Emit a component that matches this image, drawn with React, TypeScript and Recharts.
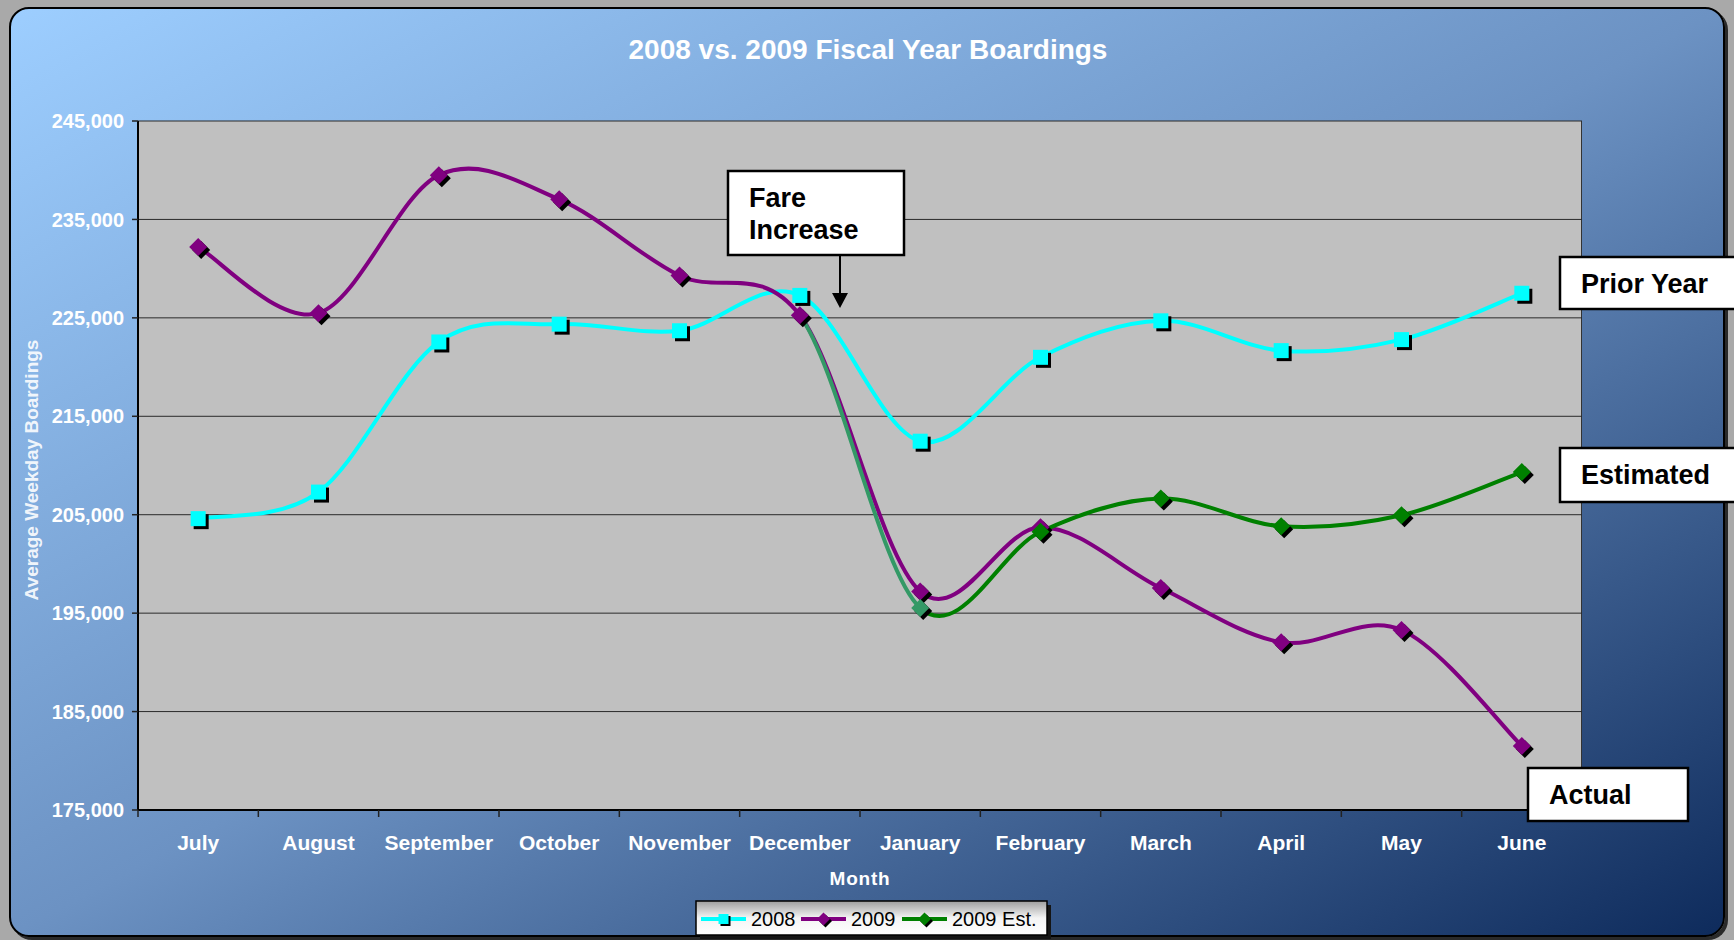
import React from 'react';
import { LineChart, Line, XAxis, YAxis, CartesianGrid } from 'recharts';

const months = [
  'July', 'August', 'September', 'October', 'November', 'December',
  'January', 'February', 'March', 'April', 'May', 'June',
];
const boardings2008 = [204600, 207300, 222550, 224360, 223690, 227280, 212470, 220990, 224700, 221670, 222790, 227500];
const boardings2009 = [232210, 225480, 239500, 237040, 229300, 225260, 197210, 203720, 197550, 192050, 193290, 181500];
const boardings2009Est = [null, null, null, null, null, 225260, 195530, 203270, 206640, 203830, 204950, 209330];
const yTicks = [175000, 185000, 195000, 205000, 215000, 225000, 235000, 245000];

// the estimate follows the actuals until it branches off in December;
// the shared stretch is drawn invisibly so the smoothing matches the actual curve
const estStart = boardings2009Est.findIndex((v) => v != null);

const data = months.map((month, i) => ({
  month,
  y2008: boardings2008[i],
  y2009: boardings2009[i],
  est: boardings2009Est[i] ?? boardings2009[i],
}));

const W = 1734;
const H = 940;
const PLOT_L = 138;
const PLOT_T = 121;
const PLOT_R = 1582;
const PLOT_B = 810;
const BAND = (PLOT_R - PLOT_L) / months.length;
const Y_AXIS_W = 80;
const X_AXIS_H = 40;
const FONT = 'Arial, "Liberation Sans", sans-serif';

const segFrac = (i: number) => i / (months.length - 1);

// Excel-style smoothing (uniform Catmull-Rom)
const smooth = (context: any) => {
  let pts: number[][] = [];
  return {
    areaStart() {},
    areaEnd() {},
    lineStart() {
      pts = [];
    },
    point(x: number, y: number) {
      pts.push([+x, +y]);
    },
    lineEnd() {
      const n = pts.length;
      if (!n) return;
      context.moveTo(pts[0][0], pts[0][1]);
      for (let i = 0; i < n - 1; i++) {
        const p0 = pts[Math.max(i - 1, 0)];
        const p1 = pts[i];
        const p2 = pts[i + 1];
        const p3 = pts[Math.min(i + 2, n - 1)];
        context.bezierCurveTo(
          p1[0] + (p2[0] - p0[0]) / 6,
          p1[1] + (p2[1] - p0[1]) / 6,
          p2[0] - (p3[0] - p1[0]) / 6,
          p2[1] - (p3[1] - p1[1]) / 6,
          p2[0],
          p2[1]
        );
      }
    },
  };
};

type Shape = 'square' | 'diamond';

const Marker = ({ x, y, shape, color, size }: { x: number; y: number; shape: Shape; color: string; size: number }) => {
  const off = size > 10 ? 3 : 2;
  if (shape === 'square') {
    const h = size / 2;
    return (
      <g>
        <rect x={x - h + off} y={y - h + off} width={size} height={size} fill="#000" />
        <rect x={x - h} y={y - h} width={size} height={size} fill={color} />
      </g>
    );
  }
  const r = size / 2 + 1.5;
  const pts = (dx: number, dy: number) =>
    `${x + dx},${y - r + dy} ${x + r + dx},${y + dy} ${x + dx},${y + r + dy} ${x - r + dx},${y + dy}`;
  return (
    <g>
      <polygon points={pts(off, off)} fill="#000" />
      <polygon points={pts(0, 0)} fill={color} />
    </g>
  );
};

const makeDot = (key: string, shape: Shape, color: string, fromIndex = 0, alt?: { index: number; color: string }) =>
  (props: any) => {
    const { cx, cy, index, payload } = props;
    if (cx == null || cy == null || payload?.[key] == null || index < fromIndex) {
      return <g key={`${key}-dot-${index}`} />;
    }
    const c = alt && alt.index === index ? alt.color : color;
    return (
      <g key={`${key}-dot-${index}`}>
        <Marker x={cx} y={cy} shape={shape} color={c} size={15} />
      </g>
    );
  };

const series = [
  { key: 'y2008', name: '2008', color: '#00FFFF', shape: 'square' as Shape },
  { key: 'y2009', name: '2009', color: '#800080', shape: 'diamond' as Shape },
  { key: 'est', name: '2009 Est.', color: '#008000', shape: 'diamond' as Shape },
];

const MonthTick = (props: any) => {
  const { x, y, payload } = props;
  return (
    <g>
      <line x1={x - BAND / 2} x2={x - BAND / 2} y1={y} y2={y + 7} stroke="#222" strokeWidth={1.5} />
      <text x={x} y={y + 40} textAnchor="middle" fill="#fff" fontSize={21} fontWeight="bold" fontFamily={FONT}>
        {payload.value}
      </text>
    </g>
  );
};

const NoteBox = ({ x, y, w, h, lines }: { x: number; y: number; w: number; h: number; lines: string[] }) => (
  <g>
    <rect x={x} y={y} width={w} height={h} fill="#fff" stroke="#000" strokeWidth={2.5} />
    {lines.map((t, i) => (
      <text key={t} x={x + 21} y={y + 36 + i * 32} fontSize={27} fontWeight="bold" fontFamily={FONT} fill="#000">
        {t}
      </text>
    ))}
  </g>
);

const Overlay = () => {
  const legX = 696;
  const legY = 901;
  const itemW = [100, 101, 140];
  let cursor = legX + 5;
  return (
    <svg width={W} height={H} style={{ position: 'absolute', left: 0, top: 0, pointerEvents: 'none' }}>
      <defs>
        <linearGradient id="legendFill" x1="0" y1="0" x2="0" y2="1">
          <stop offset="0%" stopColor="#9e9e9e" />
          <stop offset="50%" stopColor="#f4f4f4" />
          <stop offset="100%" stopColor="#ffffff" />
        </linearGradient>
      </defs>
      <text x={868} y={59} textAnchor="middle" fill="#fff" fontSize={28} fontWeight="bold" fontFamily={FONT}>
        2008 vs. 2009 Fiscal Year Boardings
      </text>
      <text
        transform="translate(38, 470) rotate(-90)"
        textAnchor="middle"
        fill="#fff"
        fillOpacity={0.9}
        fontSize={19}
        fontWeight="bold"
        fontFamily={FONT}
      >
        Average Weekday Boardings
      </text>
      <text x={860} y={885} textAnchor="middle" fill="#fff" fontSize={19} fontWeight="bold" letterSpacing={0.8} fontFamily={FONT}>
        Month
      </text>

      <NoteBox x={728} y={171} w={176} h={84} lines={['Fare', 'Increase']} />
      <line x1={840} y1={255} x2={840} y2={295} stroke="#000" strokeWidth={2} />
      <polygon points="832,293 848,293 840,308" fill="#000" />
      <NoteBox x={1560} y={257} w={200} h={52} lines={['Prior Year']} />
      <NoteBox x={1560} y={448} w={200} h={54} lines={['Estimated']} />
      <NoteBox x={1528} y={768} w={160} h={53} lines={['Actual']} />

      <rect x={legX + 4} y={legY + 4} width={351} height={34} fill="#151515" />
      <rect x={legX} y={legY} width={351} height={34} fill="url(#legendFill)" stroke="#000" strokeWidth={1.5} />
      {series.map((s, i) => {
        const x0 = cursor;
        cursor += itemW[i];
        const cy = legY + 18;
        return (
          <g key={s.key}>
            <line x1={x0} x2={x0 + 45} y1={cy} y2={cy} stroke={s.color} strokeWidth={4} />
            <Marker x={x0 + 22.5} y={cy} shape={s.shape} color={s.color} size={10} />
            <text x={x0 + 50} y={legY + 25} fontSize={20} fontFamily={FONT} fill="#000">
              {s.name}
            </text>
          </g>
        );
      })}
    </svg>
  );
};

export default function App() {
  return (
    <div style={{ position: 'absolute', left: 0, top: 0, width: W, height: H, background: '#a9a9a9', overflow: 'hidden' }}>
      <div
        style={{
          position: 'absolute',
          left: 9,
          top: 7,
          width: 1716,
          height: 930,
          boxSizing: 'border-box',
          border: '2px solid #000',
          borderRadius: 20,
          boxShadow: '3px 3px 0 #2a2a2a',
          background: 'linear-gradient(to bottom right, #9dceff 0%, #6c92c3 50%, #0e2b5c 100%)',
        }}
      />
      <div
        style={{
          position: 'absolute',
          left: PLOT_L,
          top: PLOT_T,
          width: PLOT_R - PLOT_L,
          height: PLOT_B - PLOT_T,
          background: '#c0c0c0',
          borderRight: '1px solid #333',
          boxSizing: 'border-box',
        }}
      />
      <div style={{ position: 'absolute', left: 0, top: 0 }}>
        <LineChart
          width={W}
          height={H}
          data={data}
          margin={{ top: PLOT_T, right: W - PLOT_R, bottom: H - PLOT_B - X_AXIS_H, left: PLOT_L - Y_AXIS_W }}
        >
          <defs>
            <linearGradient id="estStroke" x1="0" y1="0" x2="1" y2="0">
              <stop offset={segFrac(estStart)} stopColor="#339966" stopOpacity={0} />
              <stop offset={segFrac(estStart)} stopColor="#339966" />
              <stop offset={segFrac(estStart + 1)} stopColor="#339966" />
              <stop offset={segFrac(estStart + 1)} stopColor="#008000" />
            </linearGradient>
          </defs>
          <CartesianGrid vertical={false} stroke="#2a2a2a" strokeWidth={1} />
          <XAxis
            dataKey="month"
            height={X_AXIS_H}
            padding={{ left: BAND / 2, right: BAND / 2 }}
            tickSize={0}
            tickMargin={0}
            tickLine={false}
            axisLine={{ stroke: '#000', strokeWidth: 2 }}
            tick={<MonthTick />}
            interval={0}
          />
          <YAxis
            width={Y_AXIS_W}
            domain={[175000, 245000]}
            ticks={yTicks}
            tickFormatter={(v: number) => v.toLocaleString('en-US')}
            tickSize={6}
            tickMargin={8}
            tickLine={{ stroke: '#222', strokeWidth: 1.5 }}
            axisLine={{ stroke: '#000', strokeWidth: 2 }}
            tick={{ fill: '#fff', fontSize: 20, fontWeight: 'bold', fontFamily: FONT }}
            allowDataOverflow
          />
          <Line
            dataKey="y2008"
            name="2008"
            type={smooth as any}
            stroke="#00FFFF"
            strokeWidth={4}
            dot={makeDot('y2008', 'square', '#00FFFF')}
            activeDot={false}
            isAnimationActive={false}
          />
          <Line
            dataKey="y2009"
            name="2009"
            type={smooth as any}
            stroke="#800080"
            strokeWidth={4}
            dot={makeDot('y2009', 'diamond', '#800080')}
            activeDot={false}
            isAnimationActive={false}
          />
          <Line
            dataKey="est"
            name="2009 Est."
            type={smooth as any}
            stroke="url(#estStroke)"
            strokeWidth={4}
            dot={makeDot('est', 'diamond', '#008000', estStart + 1, { index: estStart + 1, color: '#339966' })}
            activeDot={false}
            isAnimationActive={false}
          />
        </LineChart>
      </div>
      <Overlay />
    </div>
  );
}
